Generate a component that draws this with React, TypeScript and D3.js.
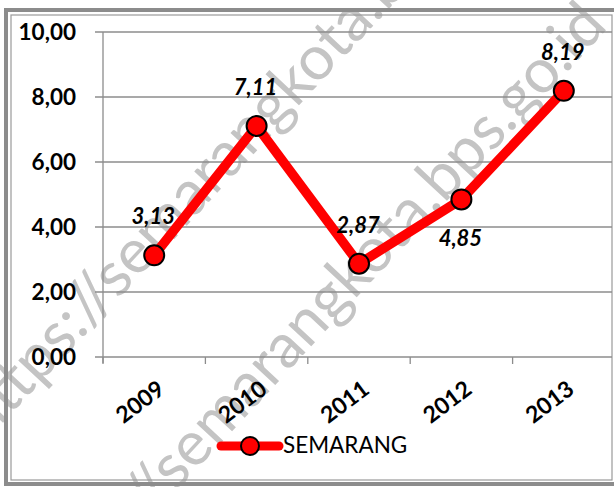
import React from "react";
import * as d3 from "d3";

const years = ["2009", "2010", "2011", "2012", "2013"];
const values = [3.13, 7.11, 2.87, 4.85, 8.19];
const labelBelow = [false, false, false, true, false];
const yTicks = [0, 2, 4, 6, 8, 10];
const seriesName = "SEMARANG";
const watermark = "https://semarangkota.bps.go.id";

const W = 614;
const H = 487;
const FONT = "Lato, 'Open Sans', sans-serif";

export default function App() {
  const x = d3.scaleBand<string>().domain(years).range([103, 615]).padding(0);
  const y = d3.scaleLinear().domain([0, 10]).range([357, 32]);
  const cx = (d: string) => (x(d) ?? 0) + x.bandwidth() / 2;
  const line = d3
    .line<number>()
    .x((_, i) => cx(years[i]))
    .y((v) => y(v));
  const fmt = (v: number) => d3.format(".2f")(v).replace(".", ",");

  return (
    <svg
      width={W}
      height={H}
      style={{ position: "absolute", left: 0, top: 0, background: "#fff" }}
      fontFamily={FONT}
    >
      <rect x={0} y={0} width={W} height={H} fill="#fff" />

      {/* watermark (behind everything) */}
      <g fill="#c4c4c4" fontSize={62} fontFamily={FONT}>
        <text transform={`translate(-14,441) rotate(-47)`} textAnchor="start">
          {watermark}
        </text>
        <text transform={`translate(609,27) rotate(-47)`} textAnchor="end">
          {watermark}
        </text>
      </g>

      {/* outer borders */}
      <rect x={6} y={10} width={620} height={474} fill="none" stroke="#8c8c8c" strokeWidth={4} />
      <rect x={11} y={15} width={601} height={465} fill="none" stroke="#9a9a9a" strokeWidth={1.2} />

      {/* gridlines & y ticks */}
      {yTicks.map((t) => (
        <g key={t}>
          <line x1={95} x2={612} y1={y(t)} y2={y(t)} stroke="#8c8c8c" strokeWidth={1.3} />
          <text
            x={76}
            y={y(t)}
            dy="0.36em"
            textAnchor="end"
            fontSize={22.5}
            fontWeight="bold"
            fill="#000"
          >
            {fmt(t)}
          </text>
        </g>
      ))}
      {/* y axis */}
      <line x1={103} x2={103} y1={32} y2={363} stroke="#8c8c8c" strokeWidth={1.3} />
      {/* x ticks */}
      {years.map((yr) => (
        <line
          key={yr}
          x1={x(yr)}
          x2={x(yr)}
          y1={357}
          y2={364}
          stroke="#8c8c8c"
          strokeWidth={1.3}
        />
      ))}
      {/* x labels */}
      {years.map((yr) => (
        <text
          key={yr}
          transform={`translate(${cx(yr) + 2},${379}) rotate(-37)`}
          textAnchor="end"
          dy="0.72em"
          fontSize={23}
          fontWeight="bold"
          fill="#000"
        >
          {yr}
        </text>
      ))}

      {/* series */}
      <path
        d={line(values) ?? ""}
        fill="none"
        stroke="#ff0000"
        strokeWidth={9.5}
        strokeLinejoin="round"
        strokeLinecap="round"
      />
      {values.map((v, i) => (
        <circle
          key={i}
          cx={cx(years[i])}
          cy={y(v)}
          r={10}
          fill="#ff0000"
          stroke="#000"
          strokeWidth={2}
        />
      ))}
      {values.map((v, i) => (
        <text
          key={"l" + i}
          x={cx(years[i]) - 1}
          y={y(v) + (labelBelow[i] ? 47 : -31)}
          textAnchor="middle"
          fontSize={22}
          fontWeight="bold"
          fontStyle="italic"
          fill="#000"
        >
          {fmt(v)}
        </text>
      ))}

      {/* legend */}
      <line x1={221} x2={279} y1={446} y2={446} stroke="#ff0000" strokeWidth={9} strokeLinecap="round" />
      <circle cx={250} cy={446} r={9} fill="#ff0000" stroke="#000" strokeWidth={2} />
      <text x={283} y={453} fontSize={22.5} fill="#000">
        {seriesName}
      </text>
    </svg>
  );
}
